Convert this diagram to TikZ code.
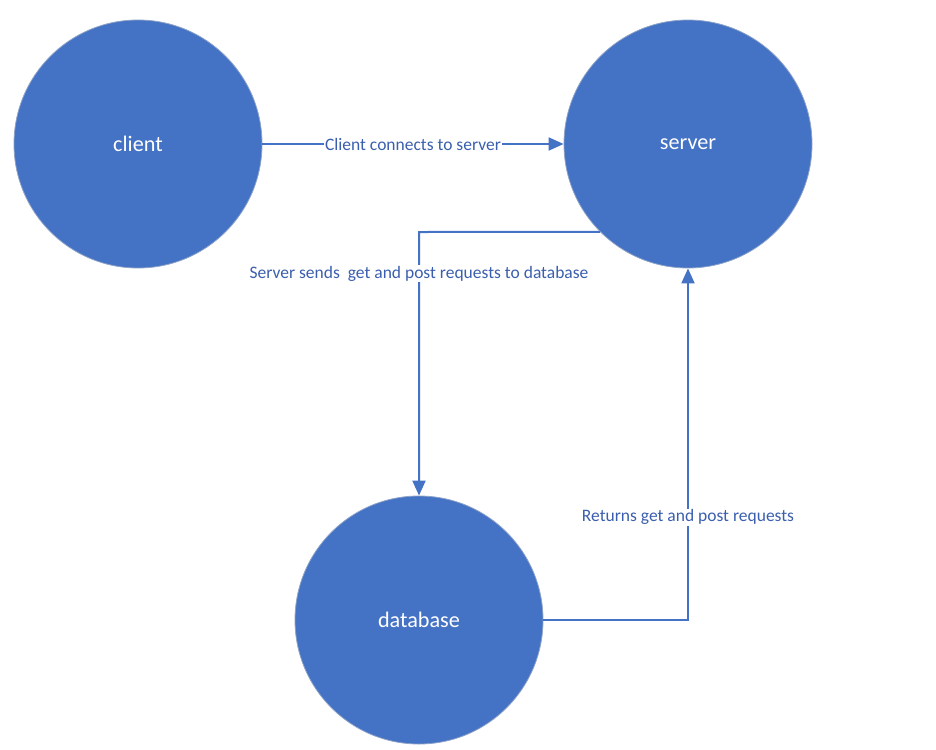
\documentclass[tikz,border=0pt]{standalone}
\usepackage{fontspec}
\setmainfont{Carlito}
\usetikzlibrary{arrows.meta}
\definecolor{fillblue}{HTML}{4472C4}
\definecolor{edgegrey}{HTML}{8EA3C8}
\definecolor{labelblue}{HTML}{3B5FAE}
\begin{document}
\begin{tikzpicture}[x=1pt,y=-1pt,
  circ/.style={circle,fill=fillblue,draw=edgegrey,line width=0.8pt,minimum size=248pt,inner sep=0pt,
    text=white,font=\fontsize{22.2}{26}\selectfont},
  conn/.style={draw=fillblue,line width=2pt,-{Triangle[length=15pt,width=13pt]}},
  lbl/.style={fill=white,text=labelblue,inner sep=1pt,font=\fontsize{17.5}{20}\selectfont}]
\useasboundingbox (0,0) rectangle (936,749);
\node[circ] (client) at (138,144) {client};
\node[circ] (server) at (688,144) {server};
\node[circ] (db) at (419,620) {database};
\coordinate (c1) at (419,232);
\coordinate (c2) at (688,620);
\draw[conn] (client.east) -- node[lbl] {Client connects to server} (server.west);
\draw[conn] (server.225) -- (c1) -- node[lbl,pos=0.158] {Server sends\ \ get and post requests to database} (db.north);
\draw[conn] (db.east) -- (c2) -- node[lbl,pos=0.292] {Returns get and post requests} (server.south);
\end{tikzpicture}
\end{document}
